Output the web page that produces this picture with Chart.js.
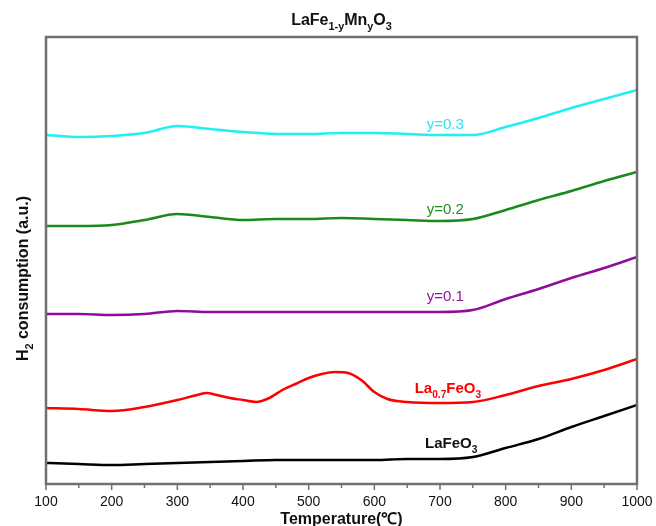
<!DOCTYPE html>
<html>
<head>
<meta charset="utf-8">
<script src="https://cdn.jsdelivr.net/npm/chart.js@4.4.1/dist/chart.umd.min.js"></script>
<style>
  html, body { margin: 0; padding: 0; background: #fff; }
  #wrap { width: 656px; height: 526px; }
</style>
</head>
<body>
<div id="wrap"><canvas id="tprChart"></canvas></div>
<script>
// temperatures (°C) shared by the smooth curves
const temps = [100, 150, 200, 250, 300, 350, 400, 450, 500, 550, 600, 650, 700, 750, 800, 850, 900, 950, 1000];

// H2 consumption, arbitrary units (curves are offset vertically)
const laFeO3 = [21, 20, 19, 20, 21, 22, 23, 24, 24, 24, 24, 25, 25, 27, 36, 45, 57, 68, 79];
const mn01 = [170, 170, 169, 170, 173, 172, 172, 172, 172, 172, 172, 172, 172, 174, 185, 195, 206, 216, 227];
const mn02 = [258, 258, 259, 264, 270, 267, 264, 265, 265, 266, 265, 264, 263, 265, 274, 284, 293, 303, 312];
const mn03 = [349, 347, 348, 351, 358, 355, 352, 350, 350, 351, 351, 350, 349, 349, 357, 366, 376, 385, 394];

// La0.7FeO3 has two peaks, so it gets its own temperature list
const la07Temps = [100, 150, 200, 250, 300, 330, 345, 360, 380, 400, 420, 440, 460, 480, 500, 520, 540, 560, 580, 600, 620, 650, 700, 750, 800, 850, 900, 950, 1000];
const la07FeO3 = [76, 75, 73, 77, 84, 89, 91, 89, 86, 84, 82, 86, 94, 100, 106, 110, 112, 111, 104, 92, 85, 82, 81, 82, 89, 98, 105, 114, 125];

const xTicks = [100, 200, 300, 400, 500, 600, 700, 800, 900, 1000];

function pts(xs, ys) {
  return xs.map((x, i) => ({ x: x, y: ys[i] }));
}

function series(label, xs, ys, color) {
  return {
    label: label,
    data: pts(xs, ys),
    borderColor: color,
    borderWidth: 2.5,
    pointRadius: 0,
    fill: false,
    cubicInterpolationMode: 'monotone'
  };
}

// draws text made of [string, isSubscript] pieces
function drawRich(ctx, parts, x, y, size, bold, color, align) {
  const font = (s) => (bold ? 'bold ' : '') + s + 'px "Liberation Sans", Arial, sans-serif';
  let total = 0;
  parts.forEach(p => {
    ctx.font = font(p[1] ? size * 0.68 : size);
    total += ctx.measureText(p[0]).width;
  });
  let cx = align === 'center' ? x - total / 2 : x;
  ctx.fillStyle = color;
  ctx.textBaseline = 'alphabetic';
  ctx.textAlign = 'left';
  parts.forEach(p => {
    ctx.font = font(p[1] ? size * 0.68 : size);
    ctx.fillText(p[0], cx, p[1] ? y + size * 0.3 : y);
    cx += ctx.measureText(p[0]).width;
  });
}

const labels = [
  { t: 708, v: 361, parts: [['y=0.3', false]], color: '#22e8f0', bold: false },
  { t: 708, v: 276, parts: [['y=0.2', false]], color: '#1f8f1f', bold: false },
  { t: 708, v: 189, parts: [['y=0.1', false]], color: '#8e1a9a', bold: false },
  { t: 712, v: 97, parts: [['La', false], ['0.7', true], ['FeO', false], ['3', true]], color: '#ff0000', bold: true },
  { t: 717, v: 42, parts: [['LaFeO', false], ['3', true]], color: '#111', bold: true }
];

const decor = {
  id: 'decor',
  afterDraw(chart) {
    const ctx = chart.ctx;
    const a = chart.chartArea;
    const xs = chart.scales.x;
    const ys = chart.scales.y;
    ctx.save();
    // frame
    ctx.strokeStyle = '#707070';
    ctx.lineWidth = 2.5;
    ctx.strokeRect(a.left, a.top, a.right - a.left, a.bottom - a.top);
    // x ticks, major and minor
    ctx.lineWidth = 1.5;
    for (let t = 100; t <= 1000; t += 50) {
      const px = xs.getPixelForValue(t);
      const len = t % 100 === 0 ? 6 : 4;
      ctx.beginPath();
      ctx.moveTo(px, a.bottom);
      ctx.lineTo(px, a.bottom + len);
      ctx.stroke();
    }
    // curve labels
    labels.forEach(l => {
      const px = xs.getPixelForValue(l.t);
      const py = ys.getPixelForValue(l.v);
      drawRich(ctx, l.parts, px, py + 6, 15, l.bold, l.color, 'center');
    });
    // title
    drawRich(ctx, [['LaFe', false], ['1-y', true], ['Mn', false], ['y', true], ['O', false], ['3', true]],
      (a.left + a.right) / 2, 25, 16, true, '#111', 'center');
    // x axis title
    drawRich(ctx, [['Temperature(\u2103)', false]], (a.left + a.right) / 2, 524, 16, true, '#111', 'center');
    // y axis title
    ctx.translate(28, (a.top + a.bottom) / 2 + 18);
    ctx.rotate(-Math.PI / 2);
    drawRich(ctx, [['H', false], ['2', true], [' consumption (a.u.)', false]], 0, 0, 16, true, '#111', 'center');
    ctx.restore();
  }
};

const ctx = document.getElementById('tprChart').getContext('2d');
new Chart(ctx, {
  type: 'line',
  data: {
    datasets: [
      series('LaFeO3', temps, laFeO3, '#000000'),
      series('La0.7FeO3', la07Temps, la07FeO3, '#ff0000'),
      series('y=0.1', temps, mn01, '#8e0c99'),
      series('y=0.2', temps, mn02, '#1a8a1a'),
      series('y=0.3', temps, mn03, '#1ef0f4')
    ]
  },
  options: {
    responsive: true,
    maintainAspectRatio: false,
    animation: false,
    layout: { padding: { top: 37, right: 19, left: 0, bottom: 0 } },
    plugins: {
      legend: { display: false },
      tooltip: { enabled: false }
    },
    scales: {
      x: {
        type: 'linear',
        min: 100,
        max: 1000,
        afterBuildTicks: (s) => { s.ticks = xTicks.map(v => ({ value: v })); },
        afterFit: (s) => { s.height = 42; s.paddingLeft = 0; s.paddingRight = 0; },
        grid: { display: false, drawTicks: false },
        border: { display: false },
        ticks: {
          padding: 10,
          color: '#111',
          maxRotation: 0,
          callback: (v) => String(v),
          font: { size: 14, family: '"Liberation Sans", Arial, sans-serif' }
        }
      },
      y: {
        min: 0,
        max: 447,
        afterFit: (s) => { s.width = 46; },
        grid: { display: false, drawTicks: false },
        border: { display: false },
        ticks: { display: false }
      }
    }
  },
  plugins: [decor]
});
</script>
</body>
</html>
